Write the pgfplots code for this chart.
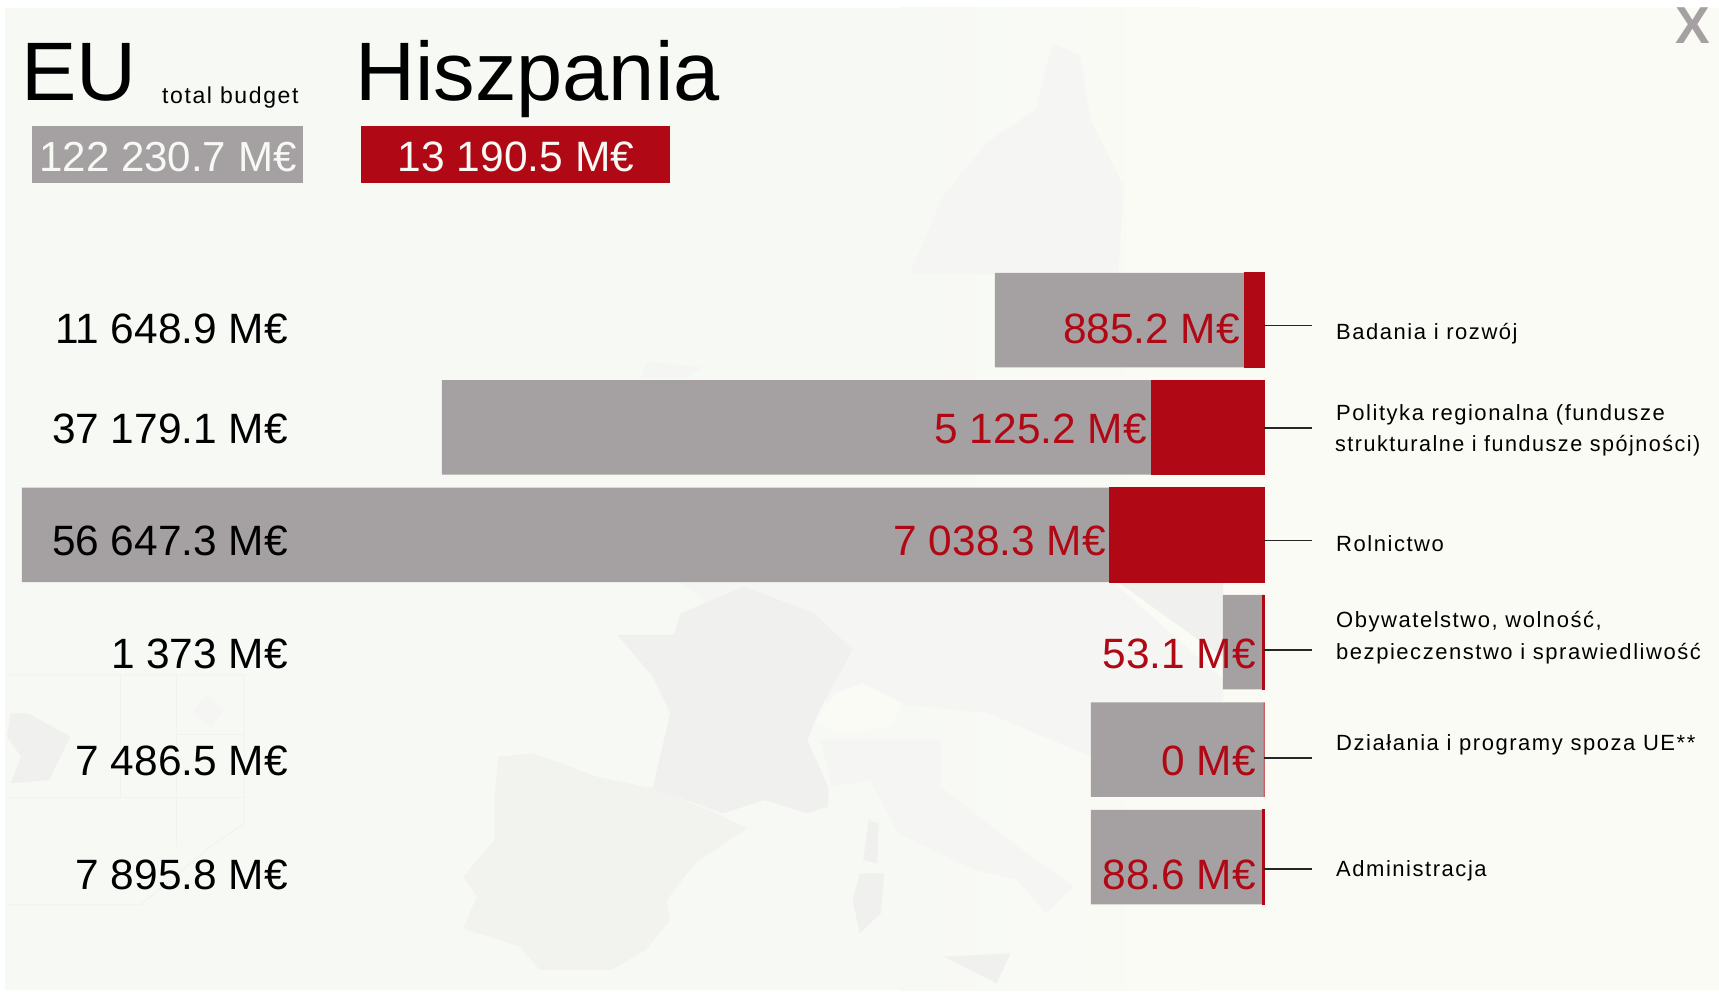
\documentclass[border=0pt]{standalone}
\usepackage{pgfplots}
\pgfplotsset{compat=1.18}
\usepackage{fontspec}
\setmainfont{Liberation Sans}
\newfontfamily\spaced[LetterSpace=7]{Liberation Sans}
\definecolor{barg}{HTML}{A5A1A2}
\definecolor{barr}{HTML}{B00814}
\definecolor{bgL}{HTML}{F7F9F5}
\definecolor{bgR}{HTML}{FBFBF5}
\definecolor{mapA}{HTML}{F0F1EF}
\definecolor{mapB}{HTML}{F2F2EF}
\definecolor{mapC}{HTML}{F5F6F3}
\definecolor{lineC}{HTML}{F2F3ED}
\newcommand{\fs}[1]{\fontsize{#1}{#1}\selectfont}
\begin{document}
\begin{tikzpicture}[x=1pt,y=-1pt]
% page and panel
\fill[white] (0,0) rectangle (1719,992);
\fill[bgL] (5,8) rectangle (900,990);
\fill[bgR] (1200,8) rectangle (1719,990);
\shade[left color=bgL,right color=bgR] (900,8) rectangle (1200,990);
% faint map, traced in coordinates of the shrunk reference
\begin{scope}[x=1.0963pt,y=-1.0963pt]
\fill[mapC] (960,40)--(985,50)--(995,110)--(1025,170)--(1020,250)--(830,250)--(860,180)--(900,130)--(945,100)--cycle;
\fill[mapC] (590,330)--(640,335)--(625,345)--(585,345)--cycle;
\fill[mapC] (620,531)--(1015,531)--(1116,620)--(1116,640)--(995,640)--(995,690)--(900,650)--(790,640)--(740,640)--(715,600)--cycle;
\fill[mapA] (1020,531)--(1116,531)--(1116,600)--cycle;
\end{scope}
% faint map, traced in coordinates of a crop of the reference
\begin{scope}[shift={(0,580)},x=0.7018pt,y=-0.3333pt]
\fill[mapB] (710,530)--(760,520)--(850,590)--(930,625)--(1010,690)--(1065,745)--(990,850)--(950,960)--(955,1020)--(920,1110)--(870,1170)--(770,1170)--(740,1100)--(660,1045)--(680,950)--(660,890)--(705,780)--(705,650)--cycle;
\fill[mapA] (880,165)--(960,165)--(970,100)--(1060,20)--(1160,100)--(1215,210)--(1170,380)--(1150,480)--(1180,620)--(1180,680)--(1150,700)--(1090,660)--(1030,700)--(930,625)--(955,400)--(930,290)--cycle;
\fill[mapC] (1170,480)--(1340,480)--(1340,620)--(1450,800)--(1530,920)--(1490,1000)--(1450,900)--(1390,870)--(1280,760)--(1240,600)--(1185,620)--cycle;
\fill[bgR] (1190,340)--(1230,310)--(1285,370)--(1270,440)--(1200,460)--(1160,430)--cycle;
\fill[mapA] (1238,720)--(1252,730)--(1250,850)--(1230,840)--cycle;
\fill[mapA] (1225,880)--(1260,880)--(1255,1000)--(1225,1060)--(1215,960)--cycle;
\fill[mapA] (1345,1130)--(1440,1120)--(1420,1210)--cycle;
\fill[mapA] (15,400)--(40,400)--(100,470)--(70,600)--(15,610)--(30,530)--(10,470)--cycle;
\fill[mapC] (295,345)--(318,390)--(300,445)--(275,395)--cycle;
\draw[lineC,line width=1pt] (10,285)--(348,285)--(348,730)--(300,800)--(200,975)--(10,975);
\draw[lineC,line width=1pt] (172,285)--(172,650) (252,285)--(252,800) (10,652)--(348,652) (252,465)--(348,465);
\end{scope}
% chart
\begin{axis}[
  at={(0pt,0pt)},anchor=north west,
  scale only axis,width=1719pt,height=992pt,
  hide axis,
  x dir=reverse,y dir=reverse,
  xmin=-20748,xmax=57638,
  ymin=-2.980,ymax=6.257,
  xbar,bar width=94.5pt,bar shift=0pt,
]
\addplot[draw=none,fill=barg] coordinates {(12266,0) (37483,1) (56635,2) (1870,3) (7889,4) (7889,5)};
\addplot[draw=barr,line width=0.8pt,fill=barr] coordinates {(885.2,0) (5125.2,1) (7038.3,2) (53.1,3) (0,4) (88.6,5)};
\end{axis}
% headings
\node[anchor=base west,inner sep=0,font=\fs{83}] at (21,101) {EU};
\node[anchor=base west,inner sep=0,font=\fs{23}\spaced] at (162,104) {total budget};
\node[anchor=base west,inner sep=0,font=\fs{83}] at (355,101) {Hiszpania};
\fill[barg] (32,126) rectangle (303,183);
\fill[barr] (361,126) rectangle (670,183);
\node[anchor=base,inner sep=0,font=\fs{42},text=bgL] at (168,172) {122 230.7 M€};
\node[anchor=base,inner sep=0,font=\fs{42.5},text=bgL] at (516,172) {13 190.5 M€};
\node[anchor=base,inner sep=0,font=\bfseries\fs{52},text=barg] at (1693,44) {X};
% totals
\foreach \y/\t in {343/11 648.9,443/37 179.1,555/56 647.3,668/1 373,775/7 486.5,889/7 895.8}
  \node[anchor=base east,inner sep=0,font=\fs{42.4}] at (288,\y) {\t{} M€};
% Spain
\foreach \x/\y/\t in {1240/343/885.2,1147/443/5 125.2,1106/555/7 038.3,1256/668/53.1,1256/775/0,1256/889/88.6}
  \node[anchor=base east,inner sep=0,font=\fs{42.4},text=barr] at (\x,\y) {\t{} M€};
% connectors
\foreach \y in {325.6,427.6,540.5,650,757.6,869}
  \draw[black!85,line width=1.8pt] (1264,\y)--(1312,\y);
% category labels
\foreach \y/\t in {339/Badania i rozwój,420/Polityka regionalna (fundusze,551/Rolnictwo,627/{Obywatelstwo, wolność,},659/bezpieczenstwo i sprawiedliwość,750/Działania i programy spoza UE**,876/Administracja}
  \node[anchor=base west,inner sep=0,font=\fs{22}\spaced] at (1336,\y) {\t};
\node[anchor=base west,inner sep=0,font=\fs{22}\spaced,xscale=0.98] at (1335,451) {strukturalne i fundusze spójności)};
\end{tikzpicture}
\end{document}
